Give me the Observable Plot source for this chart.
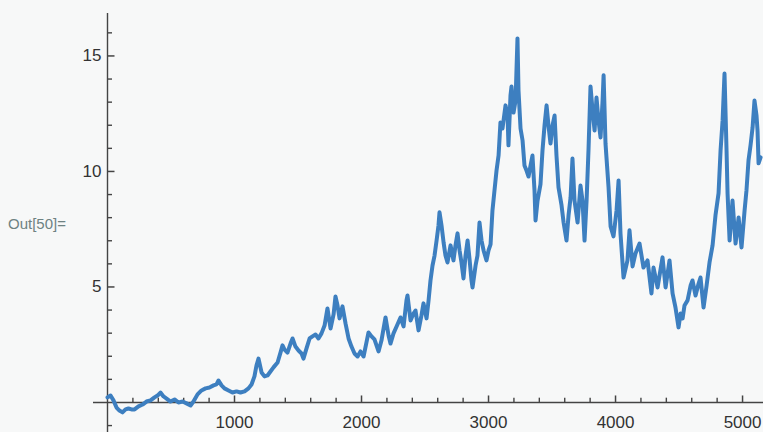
<!DOCTYPE html>
<html>
<head>
<meta charset="utf-8">
<script src="https://cdn.jsdelivr.net/npm/d3@7"></script>
<script src="https://cdn.jsdelivr.net/npm/@observablehq/plot@0.6"></script>
<style>
  html, body { margin: 0; padding: 0; background: #f7f8f8; }
  #wrap { position: relative; width: 763px; height: 432px; overflow: hidden; }
  #out { position: absolute; left: 8px; top: 215px; font: 15px "Liberation Sans", Arial, sans-serif; color: #6e8282; }
</style>
</head>
<body>
<div id="wrap"><div id="out">Out[50]=</div></div>
<script>
// time step (x) and value (y)
const steps = [0,24,47,71,94,118,142,165,189,213,244,276,307,339,370,394,417,441,465,496,528,559,591,622,654,677,709,740,772,803,835,858,874,898,921,953,984,1016,1047,1079,1110,1134,1157,1173,1189,
1213,1236,1260,1283,1307,1339,1362,1378,1394,1417,1441,1457,1480,1504,1528,1543,1567,1591,1614,1638,1661,1685,1709,1732,1756,1780,1795,1811,1827,1850,1874,1898,1921,1945,1969,1992,2016,2039,2055,2079,2102,2134,2157,2189,2213,2228,2252,2276,2307,2331,2354,2362,2386,2409,2425,2449,2472,2488,2512,2528,2543,
2559,2575,2591,2606,2614,2630,2646,2661,2677,2701,2724,2740,2756,2772,2787,2803,2819,2835,2850,2866,2874,2898,2913,2929,2945,2961,2984,3000,3016,3031,3047,3063,3079,3094,3110,3134,3150,3157,3173,3181,3197,3213,3220,3228,3236,3252,3268,3283,3299,3315,3331,3346,3362,3370,3386,3409,3425,3441,3457,3472,3488,3504,3520,3535,3551,3575,3591,3614,3630,3646,3661,3677,3701,3724,3740,3756,3772,3787,3803,3819,3835,3850,3866,3882,3898,3906,3921,3945,3961,3984,4008,4024,4039,4063,4094,4110,4134,4157,4189,4220,4252,4283,4299,4331,4370,4394,4425,4449,4472,4496,4512,4528,4543,4567,4591,4606,4630,4654,4669,4693,4717,4740,4764,4787,4811,4827,4843,4858,4874,4882,4898,4921,4945,4969,4992,5016,5031,5047,5063,5079,5094,5110,5118,5126,5142];
const values = [0.22,0.30,0.09,-0.22,-0.35,-0.43,-0.30,-0.26,-0.30,-0.30,-0.17,-0.09,0.04,0.09,0.22,0.30,0.43,0.26,0.17,0.04,0.13,0.0,0.04,-0.04,-0.13,0.04,0.35,0.52,0.61,0.65,0.74,0.78,0.95,0.74,0.61,0.52,0.43,0.48,0.43,0.48,0.61,0.78,1.13,1.60,1.90,
1.30,1.13,1.17,1.34,1.52,1.73,2.16,2.47,2.29,2.16,2.55,2.77,2.42,2.25,2.12,1.90,2.34,2.77,2.86,2.94,2.77,2.99,3.33,4.07,3.20,3.81,4.59,4.20,3.64,4.16,3.42,2.77,2.42,2.12,1.99,2.21,1.99,2.60,3.03,2.86,2.73,2.21,2.68,3.68,2.90,2.55,2.99,3.29,3.68,3.29,4.42,4.63,3.55,3.85,3.98,3.12,3.77,4.29,3.64,4.42,5.28,
5.93,6.36,7.01,7.66,8.23,7.66,6.93,6.36,6.06,6.80,6.15,6.80,7.32,6.58,6.06,5.37,6.36,7.01,6.23,5.28,4.98,5.93,6.36,7.79,7.01,6.58,6.15,6.58,6.84,8.31,9.18,10.04,10.69,12.12,11.86,12.86,12.42,11.13,13.29,13.68,12.55,13.07,14.37,15.76,13.51,11.86,11.34,10.26,10.04,9.78,10.26,10.69,9.18,7.88,8.74,9.44,10.91,11.99,12.86,11.99,11.21,11.99,12.42,10.69,9.31,8.53,7.79,7.01,8.10,8.87,10.56,8.74,7.79,9.39,8.74,7.01,8.74,10.91,13.68,12.64,11.77,13.20,12.21,11.47,13.07,14.16,11.21,9.31,7.62,7.19,8.31,9.61,7.32,5.41,6.15,7.45,5.89,6.45,6.88,5.84,6.15,4.72,5.84,4.98,6.28,4.98,6.15,4.72,4.11,3.25,3.85,3.64,4.20,4.42,5.06,5.28,4.63,5.15,5.41,4.11,5.06,6.06,6.80,8.10,9.05,10.91,12.21,14.24,10.91,9.05,7.01,8.74,6.88,8.01,6.71,8.31,9.18,10.48,11.13,11.90,13.07,12.42,11.77,10.35,10.61];

// tick positions and labels
const xMajor = [1000, 2000, 3000, 4000, 5000];
const xMinor = [200,400,600,800,1200,1400,1600,1800,2200,2400,2600,2800,3200,3400,3600,3800,4200,4400,4600,4800];
const yMajor = [5, 10, 15];
const yMinor = [-1,1,2,3,4,6,7,8,9,11,12,13,14,16];

const data = steps.map((t, i) => ({t, v: values[i]}));

const W = 763, H = 432, ML = 107;
const xDomain = [0, 5165], yDomain = [-1.3, 17.4];
const ux = (xDomain[1] - xDomain[0]) / (W - ML);   // data units per px (x)
const uy = (yDomain[1] - yDomain[0]) / H;          // data units per px (y)
const axisColor = "#444";

const chart = Plot.plot({
  width: W, height: H,
  marginLeft: ML, marginRight: 0, marginTop: 0, marginBottom: 0,
  x: {domain: xDomain, axis: null},
  y: {domain: yDomain, axis: null},
  style: {background: "transparent", fontFamily: "'Liberation Sans', Arial, sans-serif", overflow: "visible"},
  marks: [
    // axes lines
    Plot.ruleY([0], {x1: -14 * ux, x2: xDomain[1], stroke: axisColor, strokeWidth: 1.4}),
    Plot.ruleX([0], {y1: yDomain[0], y2: 16.84, stroke: axisColor, strokeWidth: 1.4}),
    // y ticks (pointing right)
    Plot.ruleY(yMajor, {x1: 0, x2: 7.5 * ux, stroke: axisColor, strokeWidth: 1.5}),
    Plot.ruleY(yMinor, {x1: 0, x2: 5 * ux, stroke: axisColor, strokeWidth: 1.4}),
    // x ticks (pointing up)
    Plot.ruleX(xMajor, {y1: 0, y2: 6.5 * uy, stroke: axisColor, strokeWidth: 1.5}),
    Plot.ruleX(xMinor, {y1: 0, y2: 4.3 * uy, stroke: axisColor, strokeWidth: 1.4}),
    // tick labels
    Plot.text(yMajor, {x: 0, y: d => d, text: d => String(d), dx: -6, textAnchor: "end", fontSize: 17, fill: "#333"}),
    Plot.text(xMajor, {x: d => d, y: 0, text: d => String(d), dy: 20, fontSize: 17, fill: "#333"}),
    // the series
    Plot.line(data, {x: "t", y: "v", stroke: "#3d7fc0", strokeWidth: 4, strokeLinejoin: "round", strokeLinecap: "round"})
  ]
});
document.getElementById("wrap").appendChild(chart);
</script>
</body>
</html>
